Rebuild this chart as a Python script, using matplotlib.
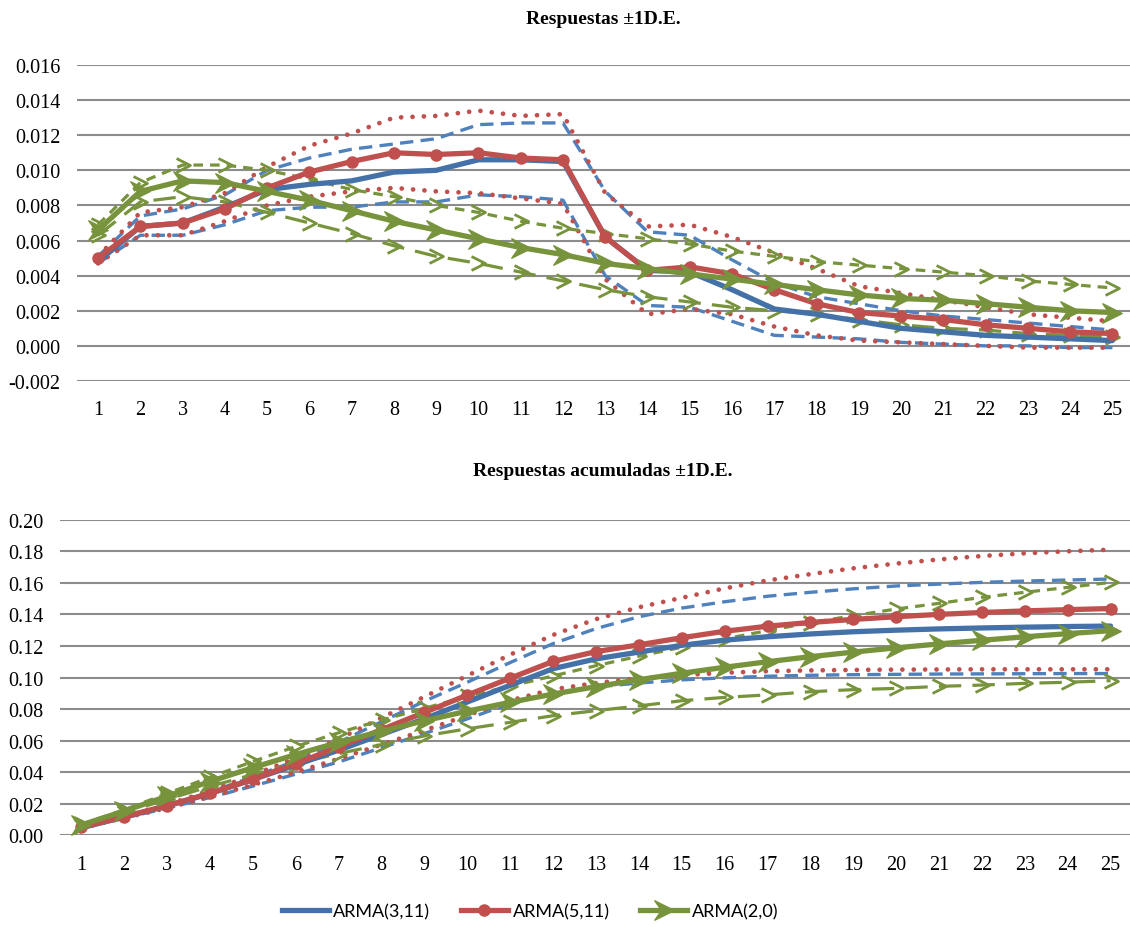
import matplotlib
matplotlib.use("Agg")
import matplotlib.pyplot as plt
from matplotlib.path import Path
from matplotlib.lines import Line2D
from matplotlib.legend_handler import HandlerLine2D

plt.rcParams['font.family'] = ['Liberation Serif', 'DejaVu Serif']

# periodos del horizonte
periodos = list(range(1, 26))
etiquetas_x = [str(p) for p in periodos]

# respuestas (panel superior)
resp_arma311 = [0.0048, 0.0068, 0.0070, 0.0079, 0.0089, 0.0092, 0.0094, 0.0099, 0.0100, 0.0106,
                0.0106, 0.0105, 0.0062, 0.0043, 0.0042, 0.0032, 0.0021, 0.0018, 0.0014, 0.0010,
                0.0008, 0.0006, 0.0005, 0.0004, 0.0003]
resp_arma311_sup = [0.0051, 0.0074, 0.0078, 0.0086, 0.0100, 0.0107, 0.0112, 0.0115, 0.0118, 0.0126,
                    0.0127, 0.0127, 0.0088, 0.0065, 0.0063, 0.0049, 0.0036, 0.0028, 0.0024, 0.0020,
                    0.0017, 0.0015, 0.0013, 0.0011, 0.0009]
resp_arma311_inf = [0.0047, 0.0063, 0.0063, 0.0069, 0.0077, 0.0079, 0.0079, 0.0082, 0.0082, 0.0086,
                    0.0085, 0.0083, 0.0040, 0.0023, 0.0022, 0.0014, 0.0006, 0.0005, 0.0004, 0.0002,
                    0.0001, 0.0000, 0.0000, -0.0001, -0.0001]
resp_arma511 = [0.0050, 0.0068, 0.0070, 0.0078, 0.0090, 0.0099, 0.0105, 0.0110, 0.0109, 0.0110,
                0.0107, 0.0106, 0.0062, 0.0043, 0.0045, 0.0041, 0.0032, 0.0024, 0.0019, 0.0017,
                0.0015, 0.0012, 0.0010, 0.0008, 0.0007]
resp_arma511_sup = [0.0051, 0.0076, 0.0079, 0.0087, 0.0102, 0.0114, 0.0121, 0.0130, 0.0131, 0.0134,
                    0.0131, 0.0132, 0.0087, 0.0068, 0.0069, 0.0062, 0.0053, 0.0044, 0.0034, 0.0030,
                    0.0026, 0.0022, 0.0018, 0.0016, 0.0014]
resp_arma511_inf = [0.0047, 0.0063, 0.0063, 0.0071, 0.0080, 0.0085, 0.0088, 0.0090, 0.0088, 0.0087,
                    0.0084, 0.0081, 0.0038, 0.0018, 0.0021, 0.0018, 0.0011, 0.0006, 0.0003, 0.0002,
                    0.0001, 0.0000, -0.0001, -0.0001, -0.0001]
resp_arma20 = [0.0066, 0.0088, 0.0094, 0.0093, 0.0088, 0.0083, 0.0077, 0.0071, 0.0066, 0.0061,
               0.0056, 0.0052, 0.0047, 0.0044, 0.0041, 0.0038, 0.0035, 0.0032, 0.0029, 0.0027,
               0.0026, 0.0024, 0.0022, 0.0020, 0.0019]
resp_arma20_sup = [0.0069, 0.0093, 0.0103, 0.0103, 0.0100, 0.0095, 0.0089, 0.0085, 0.0080, 0.0076,
                   0.0071, 0.0067, 0.0064, 0.0061, 0.0058, 0.0054, 0.0051, 0.0048, 0.0046, 0.0044,
                   0.0042, 0.0040, 0.0037, 0.0035, 0.0033]
resp_arma20_inf = [0.0063, 0.0082, 0.0085, 0.0082, 0.0076, 0.0070, 0.0064, 0.0057, 0.0051, 0.0047,
                   0.0042, 0.0037, 0.0032, 0.0028, 0.0025, 0.0022, 0.0020, 0.0018, 0.0015, 0.0012,
                   0.0010, 0.0009, 0.0007, 0.0006, 0.0005]

# respuestas acumuladas (panel inferior)
acum_arma311 = [0.0048, 0.0116, 0.0186, 0.0265, 0.0354, 0.0446, 0.0540, 0.0639, 0.0739, 0.0845,
                0.0951, 0.1056, 0.1118, 0.1161, 0.1204, 0.1237, 0.1258, 0.1276, 0.1290, 0.1300,
                0.1308, 0.1314, 0.1319, 0.1323, 0.1326]
acum_arma311_sup = [0.0050, 0.0118, 0.0190, 0.0275, 0.0370, 0.0472, 0.0590, 0.0720, 0.0850, 0.0970,
                    0.1095, 0.1215, 0.1310, 0.1385, 0.1440, 0.1480, 0.1515, 0.1540, 0.1562, 0.1580,
                    0.1592, 0.1603, 0.1611, 0.1618, 0.1624]
acum_arma311_inf = [0.0047, 0.0110, 0.0172, 0.0240, 0.0312, 0.0388, 0.0465, 0.0555, 0.0645, 0.0738,
                    0.0835, 0.0900, 0.0940, 0.0965, 0.0985, 0.0998, 0.1008, 0.1014, 0.1018, 0.1020,
                    0.1022, 0.1023, 0.1024, 0.1025, 0.1025]
acum_arma511 = [0.0050, 0.0118, 0.0188, 0.0266, 0.0356, 0.0455, 0.0560, 0.0670, 0.0779, 0.0889,
                0.0996, 0.1102, 0.1164, 0.1207, 0.1252, 0.1293, 0.1325, 0.1349, 0.1368, 0.1385,
                0.1400, 0.1412, 0.1422, 0.1430, 0.1437]
acum_arma511_sup = [0.0050, 0.0120, 0.0195, 0.0282, 0.0382, 0.0490, 0.0610, 0.0745, 0.0878, 0.1012,
                    0.1145, 0.1270, 0.1370, 0.1445, 0.1505, 0.1565, 0.1615, 0.1655, 0.1692, 0.1722,
                    0.1748, 0.1770, 0.1787, 0.1800, 0.1810]
acum_arma511_inf = [0.0047, 0.0110, 0.0173, 0.0244, 0.0320, 0.0400, 0.0485, 0.0575, 0.0665, 0.0760,
                    0.0855, 0.0925, 0.0965, 0.0995, 0.1015, 0.1030, 0.1040, 0.1045, 0.1048, 0.1050,
                    0.1051, 0.1052, 0.1052, 0.1052, 0.1052]
acum_arma20 = [0.0066, 0.0154, 0.0248, 0.0341, 0.0429, 0.0512, 0.0589, 0.0660, 0.0726, 0.0787,
               0.0843, 0.0895, 0.0942, 0.0986, 0.1027, 0.1065, 0.1100, 0.1132, 0.1161, 0.1188,
               0.1213, 0.1236, 0.1258, 0.1278, 0.1297]
acum_arma20_sup = [0.0069, 0.0162, 0.0265, 0.0368, 0.0468, 0.0563, 0.0650, 0.0730, 0.0805, 0.0880,
                   0.0945, 0.1010, 0.1075, 0.1135, 0.1192, 0.1245, 0.1297, 0.1347, 0.1392, 0.1434,
                   0.1470, 0.1508, 0.1540, 0.1571, 0.1603]
acum_arma20_inf = [0.0062, 0.0143, 0.0228, 0.0310, 0.0385, 0.0455, 0.0518, 0.0575, 0.0630, 0.0675,
                   0.0716, 0.0758, 0.0790, 0.0820, 0.0853, 0.0874, 0.0890, 0.0910, 0.0923, 0.0931,
                   0.0944, 0.0952, 0.0963, 0.0970, 0.0980]

ticks_resp = [-0.002, 0.000, 0.002, 0.004, 0.006, 0.008, 0.010, 0.012, 0.014, 0.016]
etiquetas_resp = ['-0.002', '0.000', '0.002', '0.004', '0.006', '0.008', '0.010', '0.012', '0.014', '0.016']
ticks_acum = [0.00, 0.02, 0.04, 0.06, 0.08, 0.10, 0.12, 0.14, 0.16, 0.18, 0.20]
etiquetas_acum = ['0.00', '0.02', '0.04', '0.06', '0.08', '0.10', '0.12', '0.14', '0.16', '0.18', '0.20']

nombres = ['ARMA(3,11)', 'ARMA(5,11)', 'ARMA(2,0)']

AZUL = '#4571A9'
AZUL_CLARO = '#4F81BD'
ROJO = '#C0504D'
VERDE = '#77933C'

# marcadores de flecha
chevron = Path([(-0.5, 0.5), (0.5, 0.0), (-0.5, -0.5)],
               [Path.MOVETO, Path.LINETO, Path.LINETO])
flecha = Path([(-0.5, 0.5), (0.5, 0.0), (-0.5, -0.5), (-0.15, 0.0), (-0.5, 0.5)],
              [Path.MOVETO, Path.LINETO, Path.LINETO, Path.LINETO, Path.CLOSEPOLY])


def dibujar_panel(ax, centro, bandas, ticks, etiquetas, ymin, ymax):
    (c311, c511, c20) = centro
    (s311, i311, s511, i511, s20, i20) = bandas

    # bandas +-1 D.E.
    for serie in (s311, i311):
        ax.plot(periodos, serie, color=AZUL_CLARO, lw=2.4, ls=(0, (4, 2.2)), zorder=2)
    for serie in (s511, i511):
        ax.plot(periodos, serie, color=ROJO, lw=3.4, ls=(0, (0.01, 2.4)),
                dash_capstyle='round', zorder=2)
    ax.plot(periodos, s20, color=VERDE, lw=2.3, ls=(0, (3, 2.2)), marker=chevron,
            ms=10, mew=2.0, mfc='none', mec=VERDE, zorder=3)
    ax.plot(periodos, i20, color=VERDE, lw=2.3, ls=(0, (7, 3.5)), marker=chevron,
            ms=10, mew=2.0, mfc='none', mec=VERDE, zorder=3)

    # respuestas centrales
    ax.plot(periodos, c311, color=AZUL, lw=3.8, solid_capstyle='round', zorder=4)
    ax.plot(periodos, c511, color=ROJO, lw=3.8, marker='o', ms=8, zorder=5)
    ax.plot(periodos, c20, color=VERDE, lw=3.8, marker=flecha, ms=14, mec=VERDE,
            mfc=VERDE, zorder=6)

    ax.set_xlim(0.5, 25.5)
    ax.set_ylim(ymin, ymax)
    ax.set_xticks(periodos)
    ax.set_xticklabels(etiquetas_x)
    ax.set_yticks(ticks)
    ax.set_yticklabels(etiquetas)
    ax.tick_params(axis='both', length=0, labelsize=14.5, colors='black')
    ax.tick_params(axis='x', pad=14)
    ax.tick_params(axis='y', pad=12)
    ax.grid(axis='y', color='#8C8C8C', lw=1.5)
    ax.set_axisbelow(True)
    for lado in ax.spines.values():
        lado.set_visible(False)


class ManejadorFinal(HandlerLine2D):
    # marcador al final de la linea, como en Excel
    def get_xdata(self, legend, xdescent, ydescent, width, height, fontsize):
        return [-xdescent, -xdescent + width], [-xdescent + width]


fig = plt.figure(figsize=(11.3, 9.28), dpi=100)

ax1 = fig.add_axes([0.0681, 0.5884, 0.935, 0.3405])
dibujar_panel(ax1, (resp_arma311, resp_arma511, resp_arma20),
              (resp_arma311_sup, resp_arma311_inf, resp_arma511_sup, resp_arma511_inf,
               resp_arma20_sup, resp_arma20_inf),
              ticks_resp, etiquetas_resp, -0.002, 0.016)

ax2 = fig.add_axes([0.0531, 0.0988, 0.9487, 0.3401])
dibujar_panel(ax2, (acum_arma311, acum_arma511, acum_arma20),
              (acum_arma311_sup, acum_arma311_inf, acum_arma511_sup, acum_arma511_inf,
               acum_arma20_sup, acum_arma20_inf),
              ticks_acum, etiquetas_acum, 0.0, 0.20)

fig.text(0.5336, 1 - 19 / 928, 'Respuestas \u00b11D.E.', ha='center', va='center',
         fontsize=14, fontweight='bold')
fig.text(0.5336, 1 - 471 / 928, 'Respuestas acumuladas \u00b11D.E.', ha='center',
         va='center', fontsize=14, fontweight='bold')

manejadores = [
    Line2D([], [], color=AZUL, lw=3.8),
    Line2D([], [], color=ROJO, lw=3.8, marker='o', ms=8),
    Line2D([], [], color=VERDE, lw=3.8, marker=flecha, ms=14, mfc=VERDE, mec=VERDE),
]
fig.legend(manejadores, nombres, loc='center', bbox_to_anchor=(530 / 1130, 1 - 912 / 928),
           ncol=3, frameon=False, handlelength=2.6, handletextpad=0.25, columnspacing=1.7,
           prop={'family': ['Lato', 'DejaVu Sans'], 'size': 13},
           handler_map={h: ManejadorFinal() for h in manejadores})

fig.savefig('out.png', dpi=100)
